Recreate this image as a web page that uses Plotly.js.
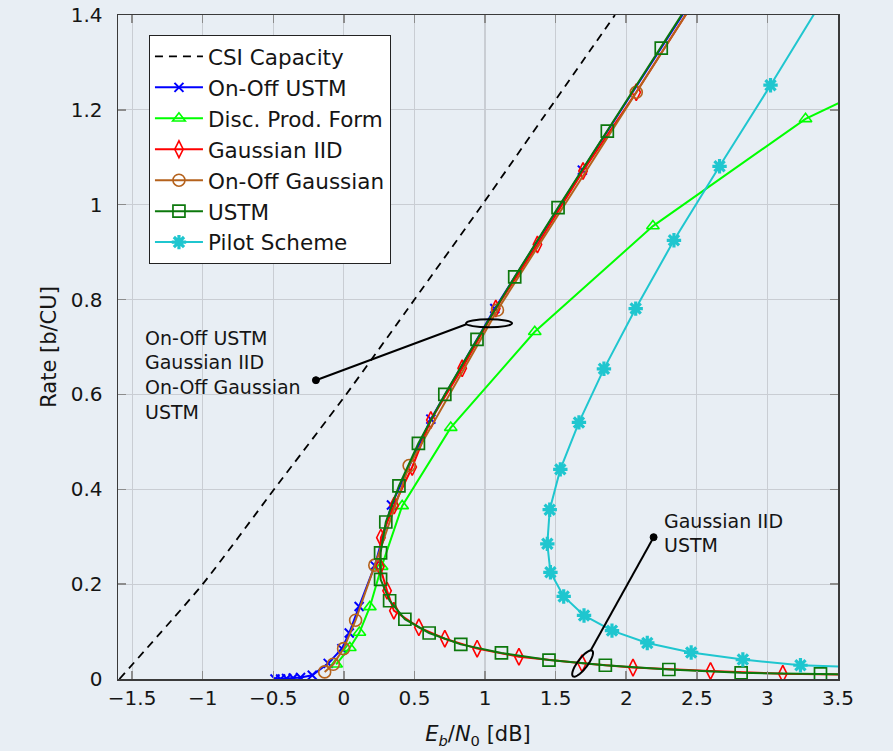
<!DOCTYPE html>
<html><head><meta charset="utf-8">
<script src="https://cdn.plot.ly/plotly-3.0.1.min.js"></script>
<style>html,body{margin:0;padding:0;background:#e8eef4;}</style>
</head><body><div id="chart" style="width:893px;height:751px;"></div>
<script>
// ---- data ----
const csiX = [-1.59, -1.0, -0.494, 0.016, 0.50, 0.98, 1.45, 1.92];
const csiY = [0, 0.2, 0.4, 0.6, 0.8, 1.0, 1.2, 1.4];

const onOffUstmX = [-0.488, -0.448, -0.406, -0.359, -0.307, -0.224, -0.111, -0.014, 0.038, 0.108, 0.219, 0.337, 0.616, 1.069, 1.689, 2.55];
const onOffUstmY = [0.0, 0.0, 0.001, 0.002, 0.003, 0.008, 0.033, 0.064, 0.097, 0.153, 0.239, 0.367, 0.548, 0.781, 1.073, 1.47];

const discX = [-0.055, 0.042, 0.11, 0.184, 0.267, 0.413, 0.757, 1.352, 2.189, 3.27, 3.9];
const discY = [0.031, 0.066, 0.098, 0.152, 0.237, 0.365, 0.530, 0.732, 0.955, 1.181, 1.27];

const gaussIidX = [3.65, 3.109, 2.597, 2.048, 1.687, 1.24, 0.944, 0.715, 0.531, 0.354, 0.306, 0.255, 0.262, 0.356, 0.484, 0.616, 0.838, 1.076, 1.371, 1.694, 2.071, 2.5];
const gaussIidY = [0.009, 0.011, 0.017, 0.024, 0.033, 0.047, 0.064, 0.085, 0.109, 0.144, 0.186, 0.237, 0.298, 0.366, 0.447, 0.546, 0.655, 0.781, 0.916, 1.071, 1.237, 1.437];

const onOffGaussX = [-0.136, -0.075, -0.002, 0.083, 0.219, 0.462, 1.088, 2.071, 2.5];
const onOffGaussY = [0.015, 0.031, 0.064, 0.124, 0.240, 0.450, 0.778, 1.237, 1.437];

const ustmX = [3.9, 3.376, 2.814, 2.302, 1.852, 1.453, 1.116, 0.828, 0.604, 0.432, 0.324, 0.26, 0.26, 0.297, 0.39, 0.528, 0.715, 0.943, 1.21, 1.517, 1.866, 2.248, 2.65];
const ustmY = [0.008, 0.011, 0.013, 0.020, 0.029, 0.040, 0.055, 0.073, 0.097, 0.126, 0.165, 0.21, 0.266, 0.331, 0.407, 0.497, 0.600, 0.716, 0.848, 0.994, 1.155, 1.330, 1.52];

const pilotX = [3.45, 3.022, 2.661, 2.338, 2.067, 1.842, 1.665, 1.533, 1.458, 1.441, 1.463, 1.557, 1.701, 1.899, 2.149, 2.46, 2.826, 3.234, 3.7];
const pilotY = [1.46, 1.252, 1.081, 0.925, 0.781, 0.654, 0.541, 0.442, 0.357, 0.285, 0.225, 0.174, 0.134, 0.102, 0.076, 0.056, 0.041, 0.029, 0.024];

const xTicks = [-1.5, -1, -0.5, 0, 0.5, 1, 1.5, 2, 2.5, 3, 3.5];
const yTicks = [0, 0.2, 0.4, 0.6, 0.8, 1, 1.2, 1.4];

const labelsGroupA = ['On-Off USTM', 'Gaussian IID', 'On-Off Gaussian', 'USTM'];
const labelsGroupB = ['Gaussian IID', 'USTM'];

// ---- styling ----
const FONT = 'DejaVu Sans, sans-serif';
const TXT = '#151515';
const BG = '#e8eef4';

function mk(x, y, name, color, symbol, size, lw) {
  return {
    x: x, y: y, name: name, type: 'scatter', mode: 'lines+markers',
    line: {color: color, width: 2},
    marker: {symbol: symbol, size: size, color: color, line: {color: color, width: lw}}
  };
}

const traces = [
  {x: csiX, y: csiY, name: 'CSI Capacity', type: 'scatter', mode: 'lines',
   line: {color: '#000000', width: 1.8, dash: '8px,6px', shape: 'spline', smoothing: 0.6}},
  mk(onOffUstmX, onOffUstmY, 'On-Off USTM', '#0000ff', 'x-thin-open', 9, 2),
  mk(discX, discY, 'Disc. Prod. Form', '#00ff00', 'triangle-up-open', 11, 1.6),
  mk(gaussIidX, gaussIidY, 'Gaussian IID', '#ff0000', 'diamond-tall-open', 12, 1.6),
  mk(onOffGaussX, onOffGaussY, 'On-Off Gaussian', '#b5621c', 'circle-open', 12, 1.6),
  mk(ustmX, ustmY, 'USTM', '#0c780c', 'square-open', 12, 1.7),
  mk(pilotX, pilotY, 'Pilot Scheme', '#1fc6cf', 'asterisk-open', 12, 3.2)
];

// rotated ellipse path (pixel units around anchor)
function ellipsePath(a, b, deg) {
  const th = deg * Math.PI / 180;
  let p = '';
  for (let i = 0; i <= 48; i++) {
    const t = 2 * Math.PI * i / 48;
    const u = a * Math.cos(t), v = b * Math.sin(t);
    const px = u * Math.cos(th) - v * Math.sin(th);
    const py = u * Math.sin(th) + v * Math.cos(th);
    p += (i === 0 ? 'M' : 'L') + px.toFixed(2) + ',' + py.toFixed(2);
  }
  return p + 'Z';
}

const shapes = [
  {type: 'circle', xref: 'x', yref: 'y', x0: 0.865, x1: 1.191, y0: 0.7415, y1: 0.7585,
   line: {color: '#000', width: 2}},
  {type: 'line', xref: 'x', yref: 'y', x0: -0.198, y0: 0.630, x1: 0.868, y1: 0.748,
   line: {color: '#000', width: 2}},
  {type: 'circle', xref: 'x', yref: 'y', xsizemode: 'pixel', ysizemode: 'pixel',
   xanchor: -0.198, yanchor: 0.630, x0: -3.5, x1: 3.5, y0: -3.5, y1: 3.5,
   fillcolor: '#000', line: {color: '#000', width: 1}},
  {type: 'path', xref: 'x', yref: 'y', xsizemode: 'pixel', ysizemode: 'pixel',
   xanchor: 1.691, yanchor: 0.0326, path: ellipsePath(16, 5, 53),
   line: {color: '#000', width: 2}},
  {type: 'line', xref: 'x', yref: 'y', x0: 1.748, y0: 0.060, x1: 2.194, y1: 0.299,
   line: {color: '#000', width: 2}},
  {type: 'circle', xref: 'x', yref: 'y', xsizemode: 'pixel', ysizemode: 'pixel',
   xanchor: 2.194, yanchor: 0.299, x0: -3.5, x1: 3.5, y0: -3.5, y1: 3.5,
   fillcolor: '#000', line: {color: '#000', width: 1}}
];

const annY_A = [0.7186, 0.6677, 0.6152, 0.5636]; // line centres
const annY_B = [0.3337, 0.2832];
const annotations = [];
labelsGroupA.forEach((t, i) => annotations.push({
  text: t, xref: 'x', yref: 'y', x: -1.42, y: annY_A[i], xanchor: 'left', yanchor: 'middle',
  showarrow: false, font: {family: FONT, size: 19, color: TXT}
}));
labelsGroupB.forEach((t, i) => annotations.push({
  text: t, xref: 'x', yref: 'y', x: 2.255, y: annY_B[i], xanchor: 'left', yanchor: 'middle',
  showarrow: false, font: {family: FONT, size: 19, color: TXT}
}));

const axisCommon = {
  showgrid: true, gridcolor: '#c9cdd3', gridwidth: 1.2,
  showline: true, linecolor: '#3a3a3a', linewidth: 1.5, mirror: 'ticks',
  ticks: 'inside', ticklen: 8, tickcolor: '#8c8c8c', tickwidth: 1.5,
  zeroline: false, tickfont: {family: FONT, size: 20, color: TXT}
};

const layout = {
  width: 893, height: 751,
  paper_bgcolor: BG, plot_bgcolor: BG,
  margin: {l: 118, r: 55, t: 15, b: 72},
  font: {family: FONT, color: TXT},
  showlegend: true,
  legend: {x: 0.043, y: 0.97, xanchor: 'left', yanchor: 'top',
           bgcolor: '#ffffff', bordercolor: '#222', borderwidth: 1,
           font: {family: FONT, size: 21.5, color: TXT}, itemwidth: 48},
  xaxis: Object.assign({}, axisCommon, {
    range: [-1.6, 3.5], tickmode: 'array', tickvals: xTicks,
    title: {text: '<i>E<sub>b</sub></i>/<i>N</i><sub>0</sub> [dB]', font: {family: FONT, size: 21, color: TXT}, standoff: 18}
  }),
  yaxis: Object.assign({}, axisCommon, {
    range: [0, 1.4], tickmode: 'array', tickvals: yTicks, ticklabelstandoff: 10,
    title: {text: 'Rate [b/CU]', font: {family: FONT, size: 21, color: TXT}, standoff: 8}
  }),
  shapes: shapes,
  annotations: annotations
};

Plotly.newPlot('chart', traces, layout, {displayModeBar: false, staticPlot: true});
</script></body></html>
